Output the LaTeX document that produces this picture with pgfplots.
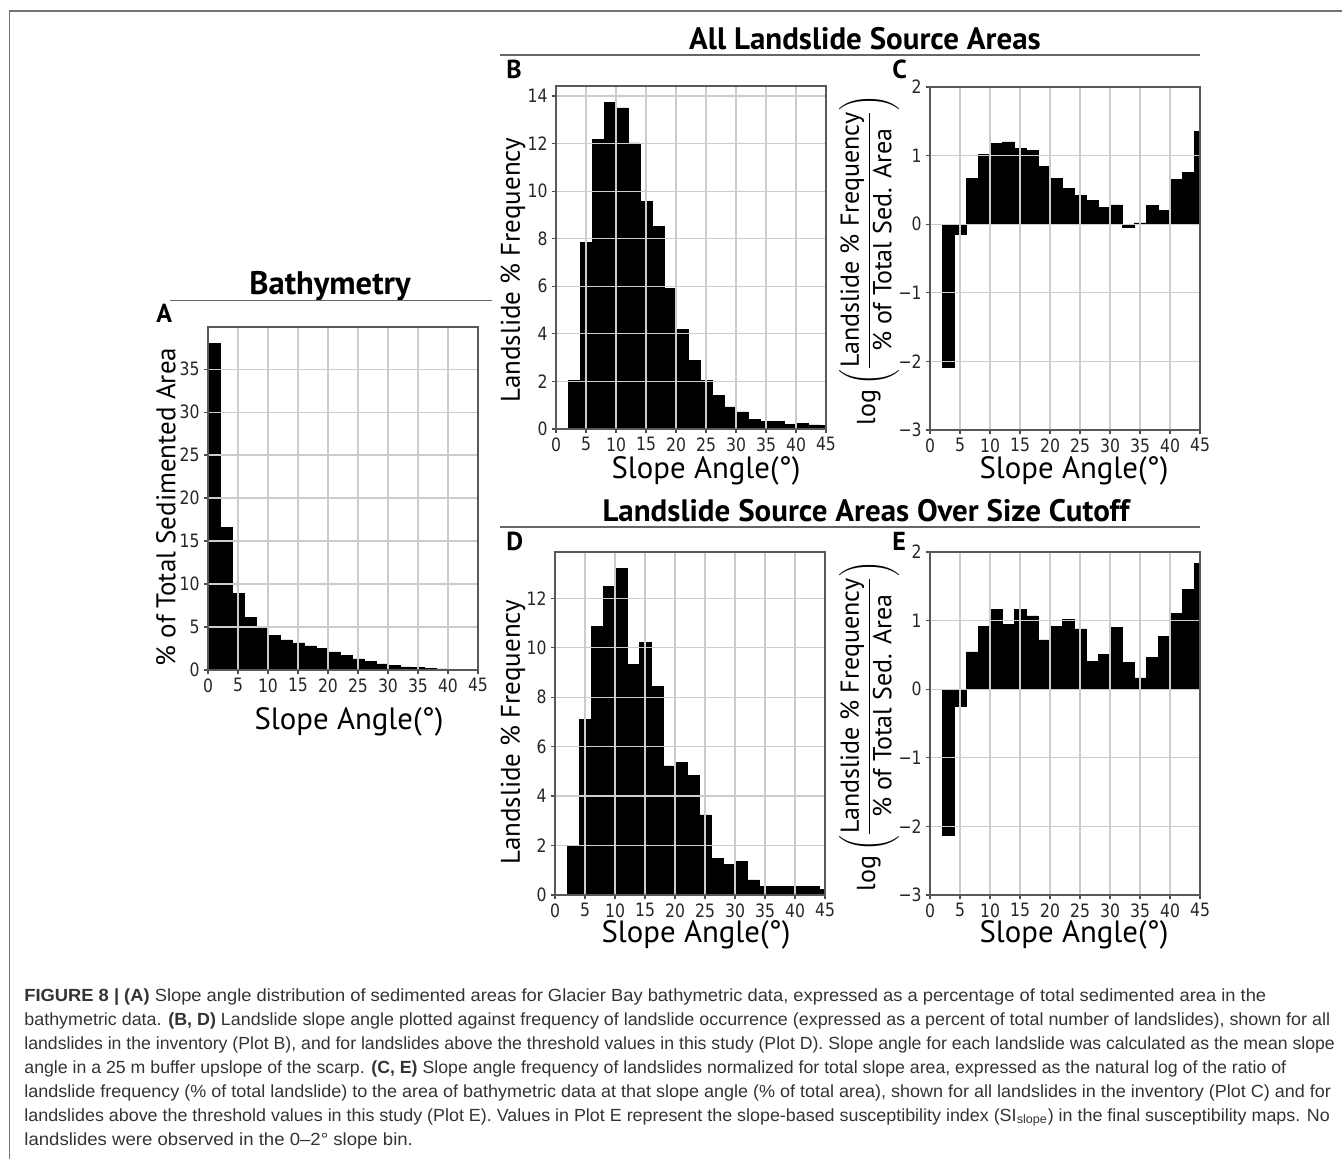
\documentclass[border=0pt]{standalone}
\usepackage{graphicx}
\usepackage{pgfplots}
\pgfplotsset{compat=1.18}
\usepackage{fontspec}
\setmainfont{PT Sans}
\newfontfamily\tickfont[FakeStretch=0.85]{DejaVu Sans}
\newfontfamily\capfont[FakeStretch=1.025]{Liberation Sans}
\definecolor{capgray}{HTML}{333333}
\pgfplotsset{
  panel/.style={
    width=135pt, height=171.5pt, scale only axis,
    xmin=0, xmax=45, xtick={0,5,...,45},
    grid=major, grid style={black!20, line width=0.6pt},
    axis on top,
    axis line style={black!65, line width=0.7pt},
    tick align=outside, xtick pos=bottom, ytick pos=left,
    major tick length=2pt, tick style={black!70, line width=0.6pt},
    /pgf/number format/assume math mode=true,
    tick label style={font=\tickfont\fontsize{9.2}{10}\selectfont, text=black!85},
    xticklabel style={inner sep=1pt, yshift=-1pt},
    yticklabel style={inner sep=1pt, xshift=-1pt},
  },
  mybars/.style={ybar interval, fill=black, draw=black, line width=0.3pt},
}
\begin{document}
\begin{tikzpicture}
\path[use as bounding box] (0,0) rectangle (671pt,-579.5pt);

% ---------- A ----------
\begin{axis}[panel, at={(104pt,-335pt)}, anchor=south west,
  ymin=0, ymax=39.9, ytick={0,5,...,35}]
\addplot[mybars] coordinates {
(0,38.0) (2,16.6) (4,8.9) (6,6.1) (8,4.8) (10,4.0) (12,3.5) (14,3.15)
(16,2.8) (18,2.5) (20,2.1) (22,1.68) (24,1.3) (26,0.97) (28,0.7) (30,0.5)
(32,0.36) (34,0.27) (36,0.2) (38,0.13) (40,0.1) (42,0.06) (44,0)};
\end{axis}

% ---------- B ----------
\begin{axis}[panel, at={(278pt,-214.5pt)}, anchor=south west,
  ymin=0, ymax=14.42, ytick={0,2,...,14}]
\addplot[mybars] coordinates {
(2,2.05) (4,7.85) (6,12.17) (8,13.74) (10,13.5) (12,12.03) (14,9.58) (16,8.53)
(18,5.92) (20,4.18) (22,2.89) (24,2.05) (26,1.42) (28,0.93) (30,0.72) (32,0.39)
(34,0.32) (36,0.32) (38,0.21) (40,0.22) (42,0.17) (44,0.14) (46,0)};
\end{axis}

% ---------- C ----------
\begin{axis}[panel, at={(465pt,-215pt)}, anchor=south west,
  ymin=-3, ymax=2, ytick={-3,-2,-1,0,1,2},
  yticklabels={−3,−2,−1,0,1,2}]
\addplot[mybars] coordinates {
(2,-2.08) (4,-0.14) (6,0.665) (8,1.02) (10,1.18) (12,1.20) (14,1.10) (16,1.08)
(18,0.845) (20,0.665) (22,0.52) (24,0.42) (26,0.35) (28,0.24) (30,0.28) (32,-0.05)
(34,0.02) (36,0.27) (38,0.20) (40,0.655) (42,0.75) (44,1.355) (46,0)};
\end{axis}

% ---------- D ----------
\begin{axis}[panel, at={(277.5pt,-447.5pt)}, anchor=south west,
  ymin=0, ymax=13.87, ytick={0,2,...,12}]
\addplot[mybars] coordinates {
(2,1.98) (4,7.1) (6,10.85) (8,12.47) (10,13.2) (12,9.34) (14,10.22) (16,8.45)
(18,5.22) (20,5.35) (22,4.85) (24,3.24) (26,1.48) (28,1.23) (30,1.35) (32,0.61)
(34,0.36) (36,0.36) (38,0.36) (40,0.36) (42,0.36) (44,0.24) (46,0)};
\end{axis}

% ---------- E ----------
\begin{axis}[panel, at={(465pt,-447.5pt)}, anchor=south west,
  ymin=-3, ymax=2, ytick={-3,-2,-1,0,1,2},
  yticklabels={−3,−2,−1,0,1,2}]
\addplot[mybars] coordinates {
(2,-2.13) (4,-0.25) (6,0.545) (8,0.92) (10,1.16) (12,0.95) (14,1.16) (16,1.07)
(18,0.72) (20,0.91) (22,1.02) (24,0.88) (26,0.40) (28,0.51) (30,0.90) (32,0.39)
(34,0.165) (36,0.46) (38,0.77) (40,1.10) (42,1.46) (44,1.83) (46,0)};
\end{axis}

\begin{scope}[x=0.5pt, y=-0.5pt]
% frame
\draw[black!55, line width=0.75pt] (9.5,1159) -- (9.5,11) -- (1342,11);
% titles
\tikzset{mttl/.style={anchor=base, inner sep=0pt, font=\bfseries\fontsize{15.5}{17}\selectfont}}
\node[mttl, font=\bfseries\fontsize{16.3}{18}\selectfont] at (330,295) {Bathymetry};
\node[mttl] at (865,50) {All Landslide Source Areas};
\node[mttl] at (866,522) {Landslide Source Areas Over Size Cutoff};
\draw[black!60, line width=0.7pt] (170,300.5) -- (492,300.5);
\draw[black!60, line width=0.7pt] (500,55) -- (1200,55);
\draw[black!60, line width=0.7pt] (500,527) -- (1200,527);
% panel letters
\tikzset{mlt/.style={anchor=base west, inner sep=0pt, font=\bfseries\fontsize{13}{14}\selectfont}}
\node[mlt] at (156,323) {A};
\node[mlt] at (506,79) {B};
\node[mlt] at (892,79) {C};
\node[mlt] at (506,551) {D};
\node[mlt] at (892,551) {E};
% x labels
\tikzset{mxl/.style={anchor=base, inner sep=0pt, font=\fontsize{15.4}{17}\selectfont}}
\node[mxl] at (349,729) {Slope Angle(°)};
\node[mxl] at (706,479) {Slope Angle(°)};
\node[mxl] at (1074,479) {Slope Angle(°)};
\node[mxl] at (696,942) {Slope Angle(°)};
\node[mxl] at (1074,942) {Slope Angle(°)};
% y labels
\tikzset{myl/.style={rotate=90, inner sep=0pt, font=\fontsize{13.5}{15}\selectfont}}
\node[myl] at (166,507) {\% of Total Sedimented Area};
\node[myl] at (513,270) {Landslide \% Frequency};
\node[myl] at (513,732) {Landslide \% Frequency};
\node[myl, font=\fontsize{13}{15}\selectfont] at (869,260) {$\mbox{log}\left(\displaystyle\frac{\mbox{Landslide \% Frequency}}{\mbox{\% of Total Sed. Area}}\right)$};
\node[myl, font=\fontsize{13}{15}\selectfont] at (869,726) {$\mbox{log}\left(\displaystyle\frac{\mbox{Landslide \% Frequency}}{\mbox{\% of Total Sed. Area}}\right)$};
% caption
\tikzset{mcap/.style={anchor=base west, inner sep=0pt, text=capgray, font=\capfont\fontsize{8.8}{10}\selectfont}}
\node[mcap] at (24,1001) {\scalebox{1.016}[1]{\textbf{FIGURE 8 | (A)} Slope angle distribution of sedimented areas for Glacier Bay bathymetric data, expressed as a percentage of total sedimented area in the}};
\node[mcap] at (24,1025) {\scalebox{0.992}[1]{bathymetric data. \textbf{(B, D)} Landslide slope angle plotted against frequency of landslide occurrence (expressed as a percent of total number of landslides), shown for all}};
\node[mcap] at (24,1049) {\scalebox{0.979}[1]{landslides in the inventory (Plot B), and for landslides above the threshold values in this study (Plot D). Slope angle for each landslide was calculated as the mean slope}};
\node[mcap] at (24,1073) {\scalebox{0.982}[1]{angle in a 25 m buffer upslope of the scarp. \textbf{(C, E)} Slope angle frequency of landslides normalized for total slope area, expressed as the natural log of the ratio of}};
\node[mcap] at (24,1097) {\scalebox{0.997}[1]{landslide frequency (\% of total landslide) to the area of bathymetric data at that slope angle (\% of total area), shown for all landslides in the inventory (Plot C) and for}};
\node[mcap] at (24,1121) {\scalebox{0.992}[1]{landslides above the threshold values in this study (Plot E). Values in Plot E represent the slope-based susceptibility index (SI\textsubscript{slope}) in the final susceptibility maps. No}};
\node[mcap] at (24,1145) {\scalebox{1.03}[1]{landslides were observed in the 0–2° slope bin.}};
\end{scope}
\end{tikzpicture}
\end{document}
